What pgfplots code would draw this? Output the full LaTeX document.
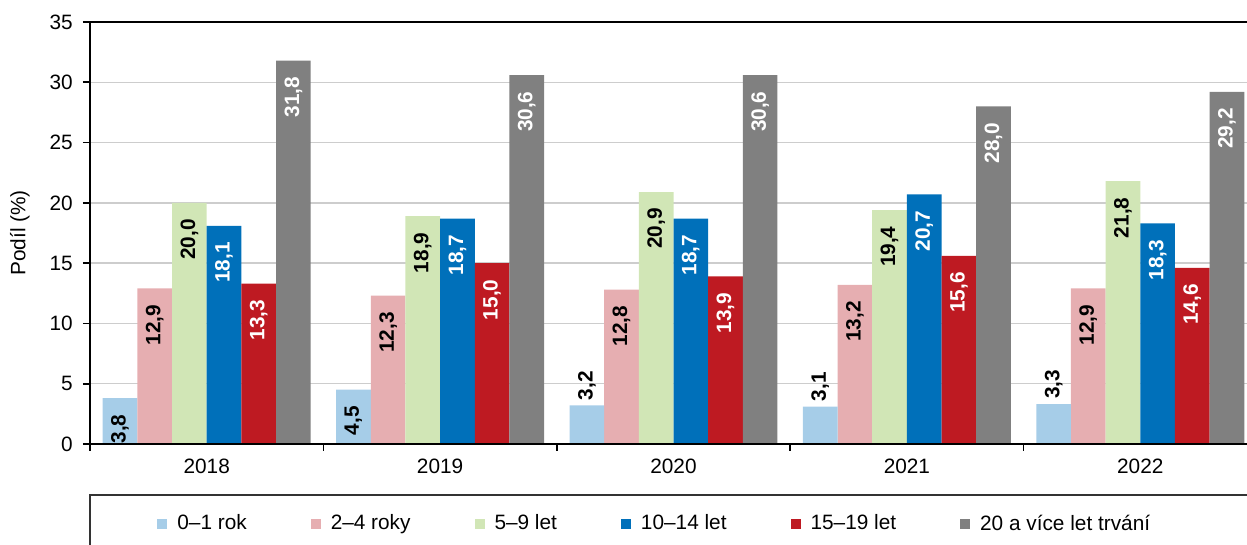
\documentclass[border=0pt]{standalone}
\usepackage{fontspec}
\setmainfont{Liberation Sans}
\usepackage{pgfplots}
\pgfplotsset{compat=1.18}
\pgfplotsset{/pgf/number format/assume math mode=true}
\definecolor{c1}{RGB}{166,205,232}
\definecolor{c2}{RGB}{230,174,177}
\definecolor{c3}{RGB}{209,230,182}
\definecolor{c4}{RGB}{0,112,186}
\definecolor{c5}{RGB}{190,26,34}
\definecolor{c6}{RGB}{128,128,128}
\definecolor{gridc}{RGB}{205,205,205}
\begin{document}
\fontsize{10.4}{12.5}\selectfont
\begin{tikzpicture}
\useasboundingbox (0,0) rectangle (623.5pt,272.5pt);
\clip (0,0) rectangle (623.5pt,272.5pt);
\begin{axis}[
  at={(45pt,50.5pt)}, anchor=south west,
  scale only axis, width=583.5pt, height=211pt,
  xmin=-0.5, xmax=4.5, ymin=0, ymax=35,
  ytick={0,5,...,35},
  ymajorgrids, grid style={gridc, line width=0.7pt},
  xtick={-0.5,0.5,1.5,2.5,3.5,4.5}, xticklabels={},
  extra x ticks={0,1,2,3,4}, extra x tick labels={2018,2019,2020,2021,2022},
  extra x tick style={major tick length=0pt, xticklabel style={yshift=-4pt}},
  xtick pos=bottom, ytick pos=left,
  tick align=outside, major tick length=3.5pt,
  tick style={black, line width=0.8pt},
  axis line style={black, line width=1pt},
  yticklabel style={xshift=-1.5pt},
  ylabel={Podíl (\%)},
  ylabel style={at={(axis description cs:-0.06,0.5)}, anchor=center},
  ybar, bar width=17.33pt,
  nodes near coords={\pgfmathprintnumber[fixed,fixed zerofill,precision=1,use comma]{\pgfplotspointmeta}},
  every node near coord/.append style={font=\bfseries, inner sep=0pt},
  inlab/.style={every node near coord/.append style={yshift=-8pt, rotate=90, anchor=east}},
  outlab/.style={every node near coord/.append style={yshift=2.5pt, rotate=90, anchor=west}},
  legend image code/.code={\fill[#1] (0pt,-2.5pt) rectangle (5pt,2.5pt);},
  legend columns=6,
  legend style={at={(0.0574,-0.1895)}, anchor=west, draw=none, fill=none,
    inner sep=0pt, nodes={inner sep=0pt},
    /tikz/every odd column/.append style={column sep=5pt},
    /tikz/every even column/.append style={column sep=32pt}},
]
\addplot[fill=c1, draw=none, bar shift=-43.325pt, inlab, nodes near coords style={text=black}] coordinates {(0,3.8) (1,4.5)};
\addlegendentry{0–1 rok}
\addplot[fill=c2, draw=none, bar shift=-25.995pt, inlab, nodes near coords style={text=black}] coordinates {(0,12.9) (1,12.3) (2,12.8) (3,13.2) (4,12.9)};
\addlegendentry{2–4 roky}
\addplot[fill=c3, draw=none, bar shift=-8.665pt, inlab, nodes near coords style={text=black}] coordinates {(0,20.0) (1,18.9) (2,20.9) (3,19.4) (4,21.8)};
\addlegendentry{5–9 let}
\addplot[fill=c4, draw=none, bar shift=8.665pt, inlab, nodes near coords style={text=white}] coordinates {(0,18.1) (1,18.7) (2,18.7) (3,20.7) (4,18.3)};
\addlegendentry{10–14 let}
\addplot[fill=c5, draw=none, bar shift=25.995pt, inlab, nodes near coords style={text=white}] coordinates {(0,13.3) (1,15.0) (2,13.9) (3,15.6) (4,14.6)};
\addlegendentry{15–19 let}
\addplot[fill=c6, draw=none, bar shift=43.325pt, inlab, nodes near coords style={text=white}] coordinates {(0,31.8) (1,30.6) (2,30.6) (3,28.0) (4,29.2)};
\addlegendentry{20 a více let trvání}
\addplot[fill=c1, draw=none, bar shift=-43.325pt, outlab, nodes near coords style={text=black}, forget plot] coordinates {(2,3.2) (3,3.1) (4,3.3)};
\draw[black, line width=1pt] (rel axis cs:0,0) -- (rel axis cs:1,0);
\end{axis}
\draw[line width=1pt, black!80] (45pt,-10pt) rectangle (700pt,25pt);
\end{tikzpicture}
\end{document}
